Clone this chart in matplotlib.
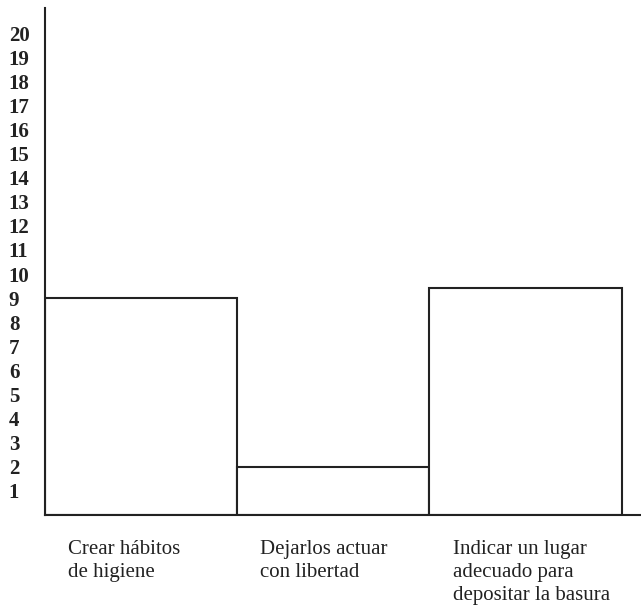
#!/usr/bin/env python3

import matplotlib
matplotlib.use('Agg')
import matplotlib.pyplot as plt
import matplotlib.transforms as mtransforms


categories = ['Crear hábitos\nde higiene',
              'Dejarlos actuar\ncon libertad',
              'Indicar un lugar\nadecuado para\ndepositar la basura']
values = [9.0, 2.0, 9.4]
y_ticks = list(range(1, 21))


def main():
    plt.rcParams['font.family'] = ['Liberation Serif', 'DejaVu Serif']
    ink = '#222222'

    fig = plt.figure(figsize=(6.41, 6.15), dpi=100)
    ax = fig.add_axes([0.070, 0.163, 0.930, 0.824])

    x = list(range(len(values)))
    ax.bar(x, values, width=1.0, facecolor='white', edgecolor=ink,
           linewidth=1.5, align='center')

    ax.set_xlim(-0.5, 2.60)
    ax.set_ylim(0, 21.05)

    for side in ['top', 'right']:
        ax.spines[side].set_visible(False)
    for side in ['left', 'bottom']:
        ax.spines[side].set_color(ink)
        ax.spines[side].set_linewidth(1.5)

    # numbers are left aligned in the original scan
    ax.set_yticks(y_ticks)
    ax.set_yticklabels([str(t) for t in y_ticks], fontsize=15,
                       fontweight='bold', color=ink, ha='left')
    ax.tick_params(axis='y', length=0, pad=26)
    ax.set_xticks([])

    # category labels, left aligned under each bar
    trans = mtransforms.blended_transform_factory(ax.transData, ax.transAxes)
    for i, label in enumerate(categories):
        ax.text(i - 0.38, -0.05, label, transform=trans, ha='left', va='top',
                fontsize=15, color=ink, linespacing=1.3)

    fig.savefig('out.png', dpi=100)


if __name__ == '__main__':
    main()
